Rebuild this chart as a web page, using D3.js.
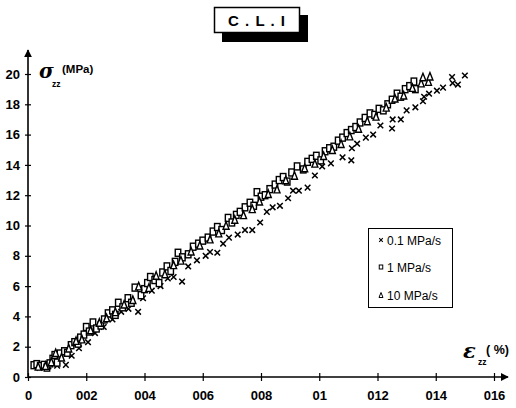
<!DOCTYPE html>
<html><head><meta charset="utf-8">
<script src="https://cdn.jsdelivr.net/npm/d3@7"></script>
<style>body{margin:0;background:#fff}svg{display:block}</style>
</head><body>
<svg id="chart" width="516" height="408"></svg>
<script>
// ---- data ----
const xTickValues = [0, 0.02, 0.04, 0.06, 0.08, 0.10, 0.12, 0.14, 0.16];
const xTickLabels = ["0", "002", "004", "006", "008", "01", "012", "014", "016"];
const yTickValues = [0, 2, 4, 6, 8, 10, 12, 14, 16, 18, 20];
const seriesNames = ["0.1 MPa/s", "1 MPa/s", "10 MPa/s"];
const titleText = "C.L.I";

// 0.1 MPa/s (crosses)
const data01 = [[0.0040,0.60],[0.0070,0.70],[0.0100,0.75],[0.0130,0.80],[0.0150,1.40],[0.0175,1.90],[0.0206,2.30],[0.0230,2.90],[0.0260,3.30],[0.0290,3.80],[0.0320,4.30],[0.0345,4.50],[0.0378,4.30],[0.0395,5.20],[0.0425,5.70],[0.0455,6.00],[0.0480,6.50],[0.0500,6.60],[0.0529,6.30],[0.0550,7.30],[0.0580,7.70],[0.0610,8.00],[0.0625,8.25],[0.0650,8.20],[0.0670,8.80],[0.0690,9.20],[0.0720,9.40],[0.0745,9.70],[0.0770,9.70],[0.0797,10.20],[0.0820,10.90],[0.0840,11.20],[0.0865,11.30],[0.0893,11.80],[0.0910,12.30],[0.0930,12.30],[0.0960,12.50],[0.0985,13.30],[0.1010,13.90],[0.1040,14.10],[0.1080,14.50],[0.1110,14.30],[0.1112,15.10],[0.1130,15.40],[0.1160,15.80],[0.1185,16.00],[0.1210,16.60],[0.1250,16.40],[0.1252,17.00],[0.1280,17.00],[0.1300,17.60],[0.1330,17.80],[0.1356,18.20],[0.1360,18.50],[0.1377,18.70],[0.1404,18.90],[0.1425,19.10],[0.1456,19.80],[0.1458,19.40],[0.1476,19.30],[0.1500,19.90]];

// 1 MPa/s (squares)
const data1 = [[0.0020,0.78],[0.0030,0.85],[0.0042,0.72],[0.0055,0.80],[0.0065,0.62],[0.0075,0.90],[0.0085,1.20],[0.0092,1.45],[0.0100,0.95],[0.0110,1.55],[0.0125,1.70],[0.0135,1.60],[0.0148,2.10],[0.0160,2.30],[0.0172,2.20],[0.0180,2.60],[0.0192,2.80],[0.0200,3.30],[0.0210,3.00],[0.0223,3.60],[0.0235,3.20],[0.0250,3.40],[0.0262,3.80],[0.0275,4.20],[0.0290,4.40],[0.0300,4.10],[0.0310,4.90],[0.0325,4.60],[0.0343,5.20],[0.0355,4.90],[0.0367,5.90],[0.0388,5.40],[0.0400,5.80],[0.0410,6.20],[0.0420,6.60],[0.0435,6.40],[0.0450,6.20],[0.0462,6.90],[0.0477,7.30],[0.0490,7.00],[0.0505,7.60],[0.0515,8.20],[0.0530,7.90],[0.0550,8.10],[0.0567,8.60],[0.0585,8.80],[0.0600,9.00],[0.0618,9.20],[0.0635,9.60],[0.0650,9.90],[0.0665,9.70],[0.0687,10.50],[0.0700,10.20],[0.0715,10.70],[0.0728,10.90],[0.0745,11.20],[0.0762,11.50],[0.0775,11.30],[0.0786,12.20],[0.0800,11.90],[0.0814,12.00],[0.0830,12.40],[0.0848,12.70],[0.0862,13.00],[0.0876,13.20],[0.0890,12.90],[0.0905,13.50],[0.0924,13.90],[0.0945,13.70],[0.0960,14.20],[0.0975,14.40],[0.0990,14.60],[0.1005,14.30],[0.1020,14.90],[0.1035,15.10],[0.1050,15.20],[0.1065,15.60],[0.1080,15.80],[0.1095,16.10],[0.1110,16.30],[0.1125,16.50],[0.1140,16.80],[0.1157,17.10],[0.1174,17.40],[0.1190,17.30],[0.1205,17.70],[0.1220,17.60],[0.1235,18.00],[0.1250,18.30],[0.1267,18.70],[0.1280,18.50],[0.1295,19.00],[0.1310,19.20],[0.1325,19.50],[0.1330,19.00]];

// 10 MPa/s (triangles)
const data10 = [[0.0035,0.70],[0.0060,0.75],[0.0080,1.00],[0.0095,1.60],[0.0115,1.30],[0.0140,1.90],[0.0165,2.40],[0.0185,2.50],[0.0215,3.10],[0.0245,3.60],[0.0270,3.90],[0.0300,4.30],[0.0330,4.80],[0.0360,5.10],[0.0380,6.00],[0.0415,5.90],[0.0440,6.70],[0.0470,6.80],[0.0500,7.40],[0.0525,7.70],[0.0560,8.30],[0.0590,8.70],[0.0625,9.10],[0.0655,9.50],[0.0680,10.00],[0.0710,10.40],[0.0740,10.70],[0.0770,11.10],[0.0795,11.60],[0.0825,12.10],[0.0855,12.40],[0.0885,13.00],[0.0915,13.30],[0.0950,13.80],[0.0985,14.10],[0.1015,14.60],[0.1045,15.00],[0.1075,15.40],[0.1105,15.90],[0.1135,16.40],[0.1165,16.90],[0.1195,17.20],[0.1230,17.80],[0.1260,18.40],[0.1290,18.60],[0.1320,19.10],[0.1350,19.40],[0.1356,19.80],[0.1375,19.50],[0.1380,19.85]];

// ---- drawing ----
const svg = d3.select("#chart");
const FONT = "'Liberation Sans Narrow','Liberation Sans',Arial,sans-serif";
const x = d3.scaleLinear().domain([0, 0.16]).range([28, 494]);
const y = d3.scaleLinear().domain([0, 20]).range([377, 74]);

svg.append("defs").append("marker").attr("id","arr").attr("viewBox","0 0 10 10")
  .attr("refX",9).attr("refY",5).attr("markerWidth",8).attr("markerHeight",8)
  .attr("markerUnits","userSpaceOnUse").attr("orient","auto")
  .append("path").attr("d","M0,0 L10,5 L0,10 Z").attr("fill","#000");

svg.append("line").attr("x1",x(0)).attr("y1",y(0)).attr("x2",508).attr("y2",y(0))
  .attr("stroke","#000").attr("stroke-width",1.6).attr("marker-end","url(#arr)");
svg.append("line").attr("x1",x(0)).attr("y1",y(0)).attr("x2",x(0)).attr("y2",50)
  .attr("stroke","#000").attr("stroke-width",1.6).attr("marker-end","url(#arr)");

const xAxis = d3.axisBottom(x).tickValues(xTickValues).tickSize(0)
  .tickFormat((d,i)=>xTickLabels[i]);
const gx = svg.append("g").attr("transform",`translate(0,${y(0)})`).call(xAxis);
gx.select(".domain").remove();
gx.selectAll(".tick").append("line").attr("y1",-4).attr("y2",4).attr("stroke","#000").attr("stroke-width",1.2);
gx.selectAll(".tick text").attr("dy",0).attr("y",23).attr("font-family",FONT)
  .attr("font-size",13).attr("font-weight","bold").attr("fill","#000");

const yAxis = d3.axisLeft(y).tickValues(yTickValues).tickSize(0).tickFormat(d3.format("d"));
const gy = svg.append("g").attr("transform",`translate(${x(0)},0)`).call(yAxis);
gy.select(".domain").remove();
gy.selectAll(".tick").append("line").attr("x1",-3).attr("x2",3).attr("stroke","#000").attr("stroke-width",1.2);
gy.selectAll(".tick text").attr("x",-8).attr("font-family",FONT)
  .attr("font-size",13).attr("font-weight","bold").attr("fill","#000");

function drawCross(g, px, py, s, sw){
  g.append("path").attr("d",`M${px-s},${py-s}L${px+s},${py+s}M${px+s},${py-s}L${px-s},${py+s}`)
    .attr("stroke","#000").attr("stroke-width",sw).attr("fill","none");
}
function drawSquare(g, px, py, w, h, sw){
  g.append("rect").attr("x",px-w/2).attr("y",py-h/2).attr("width",w).attr("height",h)
    .attr("stroke","#000").attr("stroke-width",sw).attr("fill","#fff");
}
function drawTri(g, px, py, w, h, sw){
  g.append("path").attr("d",`M${px},${py-h/2}L${px+w/2},${py+h/2}L${px-w/2},${py+h/2}Z`)
    .attr("stroke","#000").attr("stroke-width",sw).attr("fill","#fff");
}

const pts = svg.append("g");
data01.forEach(d=>drawCross(pts, x(d[0]), y(d[1]), 2.8, 1.5));
data1.forEach(d=>drawSquare(pts, x(d[0]), y(d[1]), 5.5, 7, 1.4));
data10.forEach(d=>drawTri(pts, x(d[0]), y(d[1]), 6, 7.5, 1.4));

// axis titles
svg.append("text").attr("x",39).attr("y",78).attr("font-family","'DejaVu Serif',serif")
  .attr("font-weight","bold").attr("font-style","italic").attr("font-size",20).text("σ");
svg.append("text").attr("x",52).attr("y",87).attr("font-family",FONT).attr("font-weight","bold")
  .attr("font-size",8.5).text("zz");
svg.append("text").attr("x",62).attr("y",73).attr("font-family",FONT).attr("font-weight","bold")
  .attr("font-size",11.5).text("(MPa)");

svg.append("text").attr("x",463).attr("y",358).attr("font-family","'DejaVu Serif',serif")
  .attr("font-weight","bold").attr("font-style","italic").attr("font-size",21).text("ε");
svg.append("text").attr("x",478).attr("y",365).attr("font-family",FONT).attr("font-weight","bold")
  .attr("font-size",8.5).text("zz");
svg.append("text").attr("x",486).attr("y",354).attr("font-family",FONT).attr("font-weight","bold")
  .attr("font-size",12.5).text("( %)");

// title box with shadow
svg.append("rect").attr("x",222).attr("y",15).attr("width",86).attr("height",27).attr("fill","#000");
svg.append("rect").attr("x",214.5).attr("y",7.5).attr("width",85).attr("height",25)
  .attr("fill","#fff").attr("stroke","#000").attr("stroke-width",1.5);
svg.append("text").attr("x",257).attr("y",25.5).attr("text-anchor","middle")
  .attr("font-family","'Liberation Sans',Arial,sans-serif").attr("font-weight","bold")
  .attr("font-size",15).attr("letter-spacing",1).text(titleText.split("").join(" "));

// legend
const lg = svg.append("g");
lg.append("rect").attr("x",368.5).attr("y",228.5).attr("width",84).attr("height",79)
  .attr("fill","#fff").attr("stroke","#000").attr("stroke-width",1);
const legY = [241, 268, 296];
drawCross(lg, 381, legY[0]-1, 1.8, 1.1);
drawSquare(lg, 381, legY[1]-1, 3.5, 4, 1);
drawTri(lg, 381, legY[2]-1, 4, 5, 1);
seriesNames.forEach((n,i)=>{
  lg.append("text").attr("x",387).attr("y",legY[i]+4).attr("font-family",FONT)
    .attr("font-size",12).attr("fill","#000").text(n);
});
</script>
</body></html>
